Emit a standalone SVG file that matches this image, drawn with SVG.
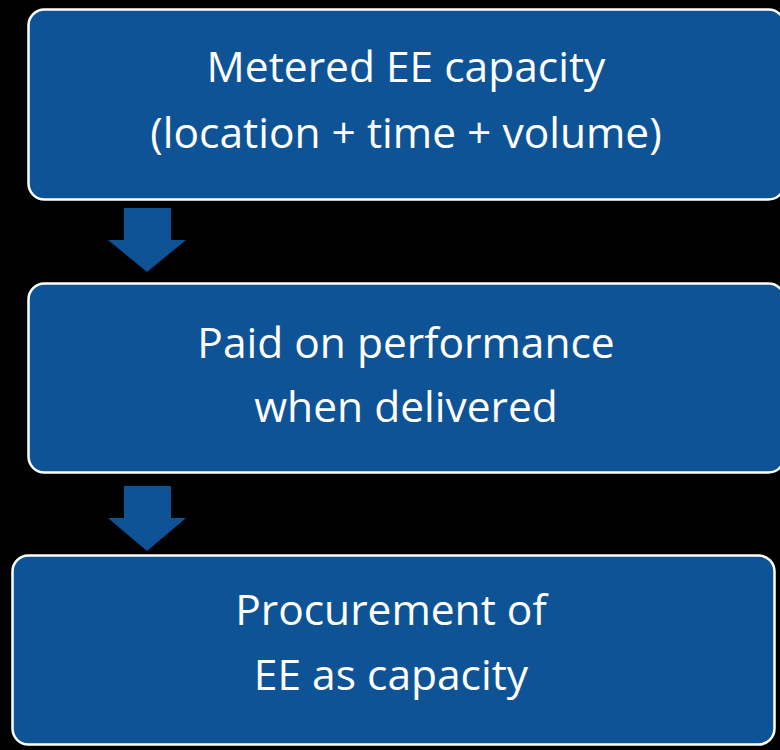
<svg xmlns="http://www.w3.org/2000/svg" width="780" height="750" viewBox="0 0 780 750">
<style>
.box{fill:#0E5395;stroke:#FFFFFF;stroke-width:2.5}
.arrow{fill:#0E5395}
.t{font-family:"Open Sans","Liberation Sans",sans-serif;font-size:42.5px;fill:#FFFFFF;text-anchor:middle}
</style>
<rect x="0" y="0" width="780" height="750" fill="#000000"/>
<g id="node1">
<rect class="box" x="28.5" y="9.5" width="756" height="190" rx="16"/>
<text class="t" x="406" y="82">Metered EE capacity</text>
<text class="t" x="406" y="148">(location + time + volume)</text>
</g>
<g id="node2">
<rect class="box" x="28.5" y="283.5" width="756" height="189" rx="16"/>
<text class="t" x="406" y="358">Paid on performance</text>
<text class="t" x="406" y="422">when delivered</text>
</g>
<g id="node3">
<rect class="box" x="12.5" y="555.5" width="762" height="189" rx="16"/>
<text class="t" x="391" y="625">Procurement of</text>
<text class="t" x="391" y="690">EE as capacity</text>
</g>
<g id="connectors">
<polygon class="arrow" points="124,208 171,208 171,240 186,240 147,272 108,240 124,240"/>
<polygon class="arrow" points="124,486 171,486 171,518 186,518 147,551 108,518 124,518"/>
</g>
</svg>
